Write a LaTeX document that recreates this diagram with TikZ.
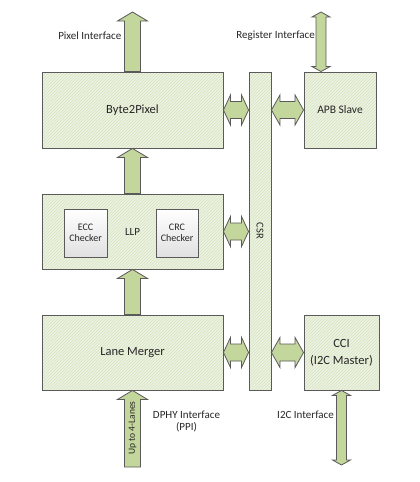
\documentclass[tikz,border=0pt]{standalone}
\usepackage{fontspec}
\setmainfont{Carlito}
\usetikzlibrary{patterns,shadows,calc}
\definecolor{boxfill}{HTML}{EEF3E4}
\definecolor{hatch}{HTML}{D5E2BC}
\definecolor{arrfill}{HTML}{C3D69B}
\definecolor{edge}{HTML}{5A5A5A}
\definecolor{txt}{HTML}{262626}
\tikzset{
  blk/.style={drop shadow={shadow xshift=1.3pt, shadow yshift=-1.3pt, fill=black, opacity=0.22},
    preaction={fill=boxfill}, draw=edge, line width=0.9pt,
    pattern=north east lines, pattern color=hatch,
    inner sep=0pt, text=txt, align=center},
  chk/.style={draw=edge, line width=0.9pt, top color=white, bottom color=black!12,
    inner sep=0pt, text=txt, align=center, font=\fontsize{10}{11.5}\selectfont},
  barrow/.style={draw=edge, line width=0.8pt, fill=arrfill, line join=miter},
  lbl/.style={text=txt, inner sep=0pt, font=\fontsize{11}{12}\selectfont},
  bigf/.style={font=\fontsize{12.5}{17}\selectfont},
}
% single block arrow pointing up: #1 base point, #2 tip point
\newcommand\blkup[2]{%
  \draw[barrow] let \p1=#1, \p2=#2 in
  (\x1-8pt,\y1) -- (\x1-8pt,\y2-9pt) -- (\x1-15pt,\y2-9pt) -- (\x1,\y2)
  -- (\x1+15pt,\y2-9pt) -- (\x1+8pt,\y2-9pt) -- (\x1+8pt,\y1) -- cycle;}
% horizontal double block arrow: #1 left tip, #2 right tip, #3 head length
\newcommand\blkh[3]{%
  \draw[barrow] let \p1=#1, \p2=#2 in
  (\x1,\y1) -- (\x1+#3,\y1+15pt) -- (\x1+#3,\y1+8.5pt) -- (\x2-#3,\y1+8.5pt)
  -- (\x2-#3,\y1+15pt) -- (\x2,\y1) -- (\x2-#3,\y1-15pt) -- (\x2-#3,\y1-8.5pt)
  -- (\x1+#3,\y1-8.5pt) -- (\x1+#3,\y1-15pt) -- cycle;}
% vertical double block arrow: #1 top tip, #2 bottom tip
\newcommand\blkv[2]{%
  \draw[barrow] let \p1=#1, \p2=#2 in
  (\x1,\y1) -- (\x1+9pt,\y1-5pt) -- (\x1+5pt,\y1-5pt) -- (\x1+5pt,\y2+5pt)
  -- (\x1+9pt,\y2+5pt) -- (\x1,\y2) -- (\x1-9pt,\y2+5pt) -- (\x1-5pt,\y2+5pt)
  -- (\x1-5pt,\y1-5pt) -- (\x1-9pt,\y1-5pt) -- cycle;}
\begin{document}
\begin{tikzpicture}[x=1pt,y=-1pt]
\useasboundingbox (0,0) rectangle (420,482);
% boxes
\node[blk, bigf, minimum width=181pt, minimum height=76pt] (b2p) at (132.5,110) {Byte2Pixel};
\node[blk, minimum width=181pt, minimum height=75pt, font=\fontsize{11}{12}\selectfont] (llp) at (132.5,231.5) {LLP};
\node[blk, bigf, minimum width=181pt, minimum height=75pt] (lm) at (132.5,352.5) {Lane Merger};
\node[blk, minimum width=22pt, minimum height=318pt, font=\fontsize{10.5}{12}\selectfont] (csr) at (260,231) {\rotatebox{-90}{CSR}};
\node[blk, minimum width=72pt, minimum height=76pt, font=\fontsize{11.5}{13}\selectfont] (apb) at (340,110) {APB Slave};
\node[blk, bigf, minimum width=75pt, minimum height=75pt] (cci) at (341.5,352.5) {CCI\\(I2C Master)};
\node[chk, minimum width=43pt, minimum height=48pt] (ecc) at (85.5,233) {ECC\\Checker};
\node[chk, minimum width=42pt, minimum height=48pt] (crc) at (177,233) {CRC\\Checker};
% free ends
\coordinate (pixtop) at (132.5,12);
\coordinate (regtop) at (321,12);
\coordinate (dphybot) at (132.5,467);
\coordinate (i2cbot) at (341.5,465);
% vertical arrows
\blkup{(b2p.north)}{(pixtop)}
\blkup{(llp.north)}{(b2p.south)}
\blkup{(lm.north)}{(llp.south)}
\blkup{(dphybot)}{(lm.south)}
\blkv{(regtop)}{(regtop |- apb.north)}
\blkv{(cci.south)}{(i2cbot)}
% horizontal arrows
\blkh{(b2p.east)}{(b2p.east -| csr.west)}{7pt}
\blkh{(b2p.east -| csr.east)}{(apb.west)}{8.5pt}
\blkh{(llp.east)}{(llp.east -| csr.west)}{7pt}
\blkh{(lm.east)}{(lm.east -| csr.west)}{7pt}
\blkh{(lm.east -| csr.east)}{(cci.west)}{8.5pt}
% labels
\node[lbl, anchor=east] (pixl) at (121.5,36) {Pixel Interface};
\node[lbl, anchor=east] (regl) at (315,36) {Register Interface};
\node[lbl, align=center, font=\fontsize{11}{12}\selectfont] (dphyl) at (186.5,421) {DPHY Interface\\(PPI)};
\node[lbl, anchor=east] (i2cl) at (334,415) {I2C Interface};
\node[lbl, rotate=90, font=\fontsize{9.5}{11}\selectfont] (lanes) at (132.5,428) {Up to 4-Lanes};
\end{tikzpicture}
\end{document}
